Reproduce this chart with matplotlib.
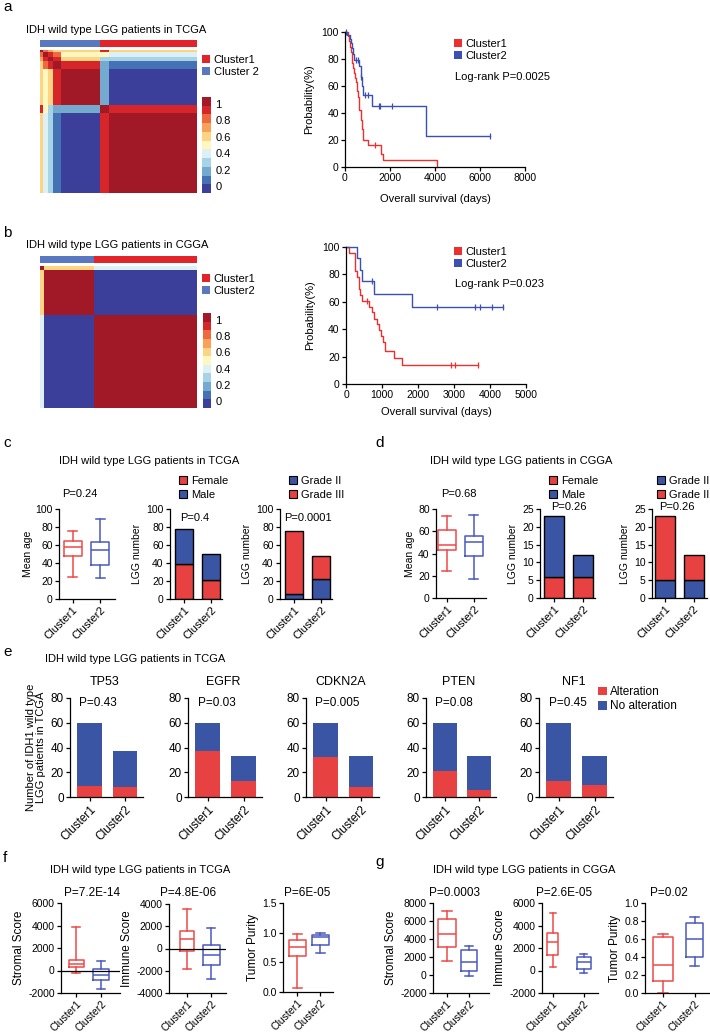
import numpy as np
import matplotlib
matplotlib.use("Agg")
import matplotlib.pyplot as plt
from matplotlib.colors import ListedColormap, BoundaryNorm
from matplotlib.patches import Patch
from matplotlib.ticker import FormatStrFormatter
from matplotlib.cm import ScalarMappable

plt.rcParams["font.family"] = ["Liberation Sans", "DejaVu Sans"]
plt.rcParams["axes.unicode_minus"] = False
plt.rcParams["axes.linewidth"] = 0.9
plt.rcParams["xtick.major.width"] = 0.9
plt.rcParams["ytick.major.width"] = 0.9
plt.rcParams["xtick.major.size"] = 3
plt.rcParams["ytick.major.size"] = 3
plt.rcParams["xtick.major.pad"] = 1.5
plt.rcParams["ytick.major.pad"] = 1.5

W, H = 710, 1033

# ---------------- data ----------------
title_tcga = "IDH wild type LGG patients in TCGA"
title_cgga = "IDH wild type LGG patients in CGGA"
clusters = ["Cluster1", "Cluster2"]

# consensus matrices, samples grouped in the order shown
heat_colors = ["#3b3f9a", "#4472b4", "#74a9d0", "#a7d3e6", "#ddf0f5", "#fef8c0",
               "#fdd483", "#f9a159", "#ee6a3e", "#d7262a", "#a11926"]
cbar_ticks = [0, 0.2, 0.4, 0.6, 0.8, 1]
cbar_ticklabels = ["0", "0.2", "0.4", "0.6", "0.8", "1"]

tcga_groups = [2, 4, 4, 7, 31, 7, 70]
tcga_group_cluster = [2, 2, 2, 2, 2, 1, 1]
tcga_consensus = [
    [1.00, 0.80, 0.75, 0.65, 0.60, 0.90, 0.60],
    [0.80, 1.00, 0.90, 0.80, 0.45, 0.50, 0.38],
    [0.75, 0.90, 1.00, 0.90, 0.62, 0.30, 0.25],
    [0.65, 0.80, 0.90, 1.00, 0.90, 0.20, 0.10],
    [0.60, 0.45, 0.62, 0.90, 1.00, 0.15, 0.00],
    [0.90, 0.50, 0.30, 0.20, 0.15, 1.00, 0.90],
    [0.60, 0.38, 0.25, 0.10, 0.00, 0.90, 1.00],
]
cgga_groups = [1, 11, 23]
cgga_group_cluster = [2, 2, 1]
cgga_consensus = [
    [1.00, 0.60, 0.35],
    [0.60, 1.00, 0.00],
    [0.35, 0.00, 1.00],
]

# Kaplan-Meier steps (days, % surviving) and censor marks
tcga_km_c1_t = [0, 130, 180, 220, 260, 290, 320, 360, 400, 440, 480, 520, 550, 580,
                610, 640, 720, 760, 790, 1030, 1590, 1680, 4090]
tcga_km_c1_s = [100, 97, 93, 89, 85, 81, 77, 73, 70, 66, 63, 60, 56, 52,
                47, 42, 35, 28, 20, 16, 10, 5, 0]
tcga_km_c1_cens_t = [1333]
tcga_km_c1_cens_s = [16]
tcga_km_c2_t = [0, 100, 200, 260, 300, 350, 420, 620, 700, 770, 810, 1185, 3587, 6444]
tcga_km_c2_s = [100, 98, 95, 92, 88, 84, 79, 75, 67, 60, 53, 45, 23, 23]
tcga_km_c2_cens_t = [30, 480, 560, 720, 870, 1000, 1510, 1550, 2090, 6444]
tcga_km_c2_cens_s = [100, 79, 79, 67, 53, 53, 45, 45, 45, 23]

cgga_km_c1_t = [0, 75, 240, 310, 360, 400, 440, 650, 720, 790, 860, 910, 960,
                1020, 1090, 1340, 1550, 3675]
cgga_km_c1_s = [100, 95.7, 82.6, 78.3, 69.6, 65.2, 60.9, 56.5, 52.2, 47.8, 43.5,
                39.1, 34.8, 30.4, 23.9, 18.9, 14.1, 14.1]
cgga_km_c1_cens_t = [580, 2920, 3020, 3675]
cgga_km_c1_cens_s = [60.9, 14.1, 14.1, 14.1]
cgga_km_c2_t = [0, 310, 400, 450, 770, 1830, 4350]
cgga_km_c2_s = [100, 91.7, 83.3, 75, 65.6, 56.3, 56.3]
cgga_km_c2_cens_t = [720, 2520, 3590, 3710, 4050, 4350]
cgga_km_c2_cens_s = [75, 56.3, 56.3, 56.3, 56.3, 56.3]

# box statistics: whisker low, Q1, median, Q3, whisker high
tcga_age = [[25, 48, 58, 64, 75.5], [23, 38, 55, 63, 88.5]]
cgga_age = [[24, 43, 48, 61, 74], [17, 38, 50, 56, 75]]
tcga_stromal = [[-230, 300, 600, 900, 3900], [-1630, -830, -440, 150, 860]]
tcga_immune = [[-1800, -240, 810, 1560, 3530], [-2700, -1500, -540, 300, 1800]]
tcga_purity = [[0.07, 0.61, 0.76, 0.88, 0.97], [0.65, 0.79, 0.92, 0.96, 1.0]]
cgga_stromal = [[1520, 3070, 4560, 6260, 7160], [-150, 480, 1440, 2740, 3240]]
cgga_immune = [[290, 1370, 2540, 3290, 5120], [-210, 90, 740, 1190, 1430]]
cgga_purity = [[0.0, 0.13, 0.31, 0.62, 0.66], [0.30, 0.40, 0.60, 0.78, 0.85]]

# stacked counts
tcga_female = [39, 21]
tcga_male = [39, 29]
tcga_grade2 = [6, 22]
tcga_grade3 = [70, 26]
cgga_female = [6, 6]
cgga_male = [17, 6]
cgga_grade2 = [5, 5]
cgga_grade3 = [18, 7]

genes = ["TP53", "EGFR", "CDKN2A", "PTEN", "NF1"]
gene_alt = [[9, 8], [37, 13], [32, 8], [21, 6], [13, 10]]
gene_no_alt = [[51, 29], [23, 20], [28, 25], [39, 27], [47, 23]]
gene_p = ["P=0.43", "P=0.03", "P=0.005", "P=0.08", "P=0.45"]

RED = "#ee2f2f"
BLUE = "#3b50b2"
BAR_RED = "#e84142"
BAR_BLUE = "#3b55a5"
BOX_RED = "#f04848"
BOX_BLUE = "#4a58c0"
CL_RED = "#e0242a"
CL_BLUE = "#5a78c0"

heat_cmap = ListedColormap(heat_colors)
heat_norm = BoundaryNorm(np.linspace(-0.08, 1.08, 12), heat_cmap.N)
annot_cmap = ListedColormap([CL_RED, CL_BLUE])

fig = plt.figure(figsize=(W / 100, H / 100), dpi=100)


def px_axes(x0, y0, x1, y1):
    return fig.add_axes([x0 / W, 1 - y1 / H, (x1 - x0) / W, (y1 - y0) / H])


def put_text(x, y, s, size=8, ha="left", **kw):
    fig.text(x / W, 1 - y / H, s, fontsize=size, ha=ha, va="center", **kw)


def square_legend(x, y, labels, colors, edge="none", size=8, spacing=0.3):
    handles = [Patch(facecolor=c, edgecolor=edge, linewidth=0.8) for c in colors]
    fig.legend(handles, labels, loc="upper left", bbox_to_anchor=(x / W, 1 - y / H),
               frameon=False, fontsize=size, handlelength=0.75, handleheight=0.75,
               handletextpad=0.3, labelspacing=spacing, borderpad=0, borderaxespad=0)


def prism(ax, size=7.5):
    for side in ("top", "right"):
        ax.spines[side].set_visible(False)
    ax.tick_params(labelsize=size, direction="out")


def cluster_xticks(ax, size=8):
    ax.set_xticks([1, 2])
    ax.set_xticklabels(clusters, rotation=45, ha="right", rotation_mode="anchor",
                       fontsize=size)


def consensus_panel(groups, group_cluster, mat, box, bar_box, cbar_box, leg_xy, leg_labels):
    idx = np.repeat(np.arange(len(groups)), groups)
    full = np.asarray(mat)[np.ix_(idx, idx)]
    ax = px_axes(*box)
    ax.imshow(full, cmap=heat_cmap, norm=heat_norm, aspect="auto", interpolation="nearest")
    ax.axis("off")
    bax = px_axes(*bar_box)
    bax.imshow(np.repeat(group_cluster, groups)[None, :], cmap=annot_cmap, vmin=1, vmax=2,
               aspect="auto", interpolation="nearest")
    bax.axis("off")
    cax = px_axes(*cbar_box)
    cb = fig.colorbar(ScalarMappable(norm=heat_norm, cmap=heat_cmap), cax=cax, ticks=cbar_ticks)
    cb.ax.set_yticklabels(cbar_ticklabels)
    cb.outline.set_visible(False)
    cb.ax.minorticks_off()
    cb.ax.tick_params(length=0, labelsize=8, pad=3)
    square_legend(leg_xy[0], leg_xy[1], leg_labels, [CL_RED, CL_BLUE], size=8, spacing=0.2)


def km_panel(box, xmax, curves, leg_xy, pval_xy, pval, xlabelpad):
    ax = px_axes(*box)
    for t, s, ct, cs, color in curves:
        ax.step(t, s, where="post", color=color, lw=1.0, clip_on=False)
        ax.plot(ct, cs, ls="none", marker="|", ms=4, mew=0.9, color=color, clip_on=False)
    ax.set_xlim(0, xmax)
    ax.set_ylim(0, 100)
    ax.set_yticks(range(0, 101, 20))
    prism(ax, 7.5)
    ax.set_ylabel("Probability(%)", fontsize=8, labelpad=5)
    ax.set_xlabel("Overall survival (days)", fontsize=8, labelpad=xlabelpad)
    square_legend(leg_xy[0], leg_xy[1], clusters, [RED, BLUE], size=8, spacing=0.2)
    put_text(pval_xy[0], pval_xy[1], pval, size=8)
    return ax


def box_panel(box, stats, ylim, yticks, xlim, widths, ylabel, fmt=None, zero_line=False,
              size=7.5, lsize=7.5, xsize=8, lw=1.1):
    ax = px_axes(*box)
    bstats = []
    for st in stats:
        bstats.append({"whislo": st[0], "q1": st[1], "med": st[2], "q3": st[3],
                       "whishi": st[4], "fliers": []})
    arts = ax.bxp(bstats, positions=[1, 2], widths=widths, showfliers=False,
                  patch_artist=False)
    for i, col in enumerate([BOX_RED, BOX_BLUE]):
        arts["boxes"][i].set(color=col, lw=lw)
        arts["medians"][i].set(color=col, lw=lw)
        for k in (2 * i, 2 * i + 1):
            arts["whiskers"][k].set(color=col, lw=lw)
            arts["caps"][k].set(color=col, lw=lw)
    if zero_line:
        ax.axhline(0, color="black", lw=0.9)
    ax.set_xlim(*xlim)
    ax.set_ylim(*ylim)
    ax.set_yticks(yticks)
    if fmt:
        ax.yaxis.set_major_formatter(FormatStrFormatter(fmt))
    prism(ax, size)
    cluster_xticks(ax, xsize)
    ax.set_ylabel(ylabel, fontsize=lsize, labelpad=2)
    return ax


def stack_panel(box, bottom, top, colors, ylim, yticks, xlim, width, ylabel, edge="black",
                lw=1.0, size=7.5):
    ax = px_axes(*box)
    ax.bar([1, 2], bottom, width, color=colors[0], edgecolor=edge, lw=lw)
    ax.bar([1, 2], top, width, bottom=bottom, color=colors[1], edgecolor=edge, lw=lw)
    ax.set_xlim(*xlim)
    ax.set_ylim(*ylim)
    ax.set_yticks(yticks)
    prism(ax, size)
    cluster_xticks(ax, 8)
    ax.set_ylabel(ylabel, fontsize=7.5, labelpad=3)
    return ax


# ---------------- panel a ----------------
put_text(3, 7, "a", size=11)
put_text(26, 30, title_tcga, size=8)
consensus_panel(tcga_groups, tcga_group_cluster, tcga_consensus,
                (40, 50, 197, 193), (40, 40, 197, 47), (202, 97, 211, 193),
                (202, 55), ["Cluster1", "Cluster 2"])
km_panel((345, 32, 525, 167), 8000,
         [(tcga_km_c1_t, tcga_km_c1_s, tcga_km_c1_cens_t, tcga_km_c1_cens_s, RED),
          (tcga_km_c2_t, tcga_km_c2_s, tcga_km_c2_cens_t, tcga_km_c2_cens_s, BLUE)],
         (454, 39), (455, 77), "Log-rank P=0.0025", 8).set_xticks(range(0, 8001, 2000))

# ---------------- panel b ----------------
put_text(3, 233, "b", size=11)
put_text(26, 245, title_cgga, size=8)
consensus_panel(cgga_groups, cgga_group_cluster, cgga_consensus,
                (40, 266, 197, 408), (40, 256, 197, 263), (203, 313, 211, 408),
                (202, 274), ["Cluster1", "Cluster2"])
km_panel((346, 247, 526, 384), 5000,
         [(cgga_km_c1_t, cgga_km_c1_s, cgga_km_c1_cens_t, cgga_km_c1_cens_s, RED),
          (cgga_km_c2_t, cgga_km_c2_s, cgga_km_c2_cens_t, cgga_km_c2_cens_s, BLUE)],
         (454, 247), (455, 284), "Log-rank P=0.023", 5).set_xticks(range(0, 5001, 1000))

# ---------------- panel c ----------------
put_text(3, 443, "c", size=11)
put_text(149, 461, title_tcga, size=8, ha="center")
box_panel((59, 509, 115, 599), tcga_age, (0, 100), range(0, 101, 20), (0.5, 2.54),
          [0.66, 0.66], "Mean age")
put_text(80, 494, "P=0.24", ha="center")
stack_panel((170, 509, 222, 599), tcga_female, tcga_male, [BAR_RED, BAR_BLUE],
            (0, 100), range(0, 101, 20), (0.48, 2.42), 0.66, "LGG number")
square_legend(179, 476, ["Female", "Male"], [BAR_RED, BAR_BLUE], edge="black", spacing=0.35)
put_text(180, 518, "P=0.4")
stack_panel((280, 509, 332, 599), tcga_grade2, tcga_grade3, [BAR_BLUE, BAR_RED],
            (0, 100), range(0, 101, 20), (0.49, 2.4), 0.66, "LGG number")
square_legend(289, 476, ["Grade II", "Grade III"], [BAR_BLUE, BAR_RED], edge="black",
              spacing=0.35)
put_text(284, 518, "P=0.0001")

# ---------------- panel d ----------------
put_text(375, 443, "d", size=11)
put_text(521, 461, title_cgga, size=8, ha="center")
box_panel((436, 509, 486, 598), cgga_age, (0, 80), range(0, 81, 20), (0.6, 2.45),
          [0.66, 0.66], "Mean age")
put_text(459, 494, "P=0.68", ha="center")
stack_panel((540, 509, 595, 598), cgga_female, cgga_male, [BAR_RED, BAR_BLUE],
            (0, 25), range(0, 26, 5), (0.5, 2.42), 0.7, "LGG number")
square_legend(549, 476, ["Female", "Male"], [BAR_RED, BAR_BLUE], edge="black", spacing=0.35)
put_text(551, 507, "P=0.26")
stack_panel((652, 509, 707, 598), cgga_grade2, cgga_grade3, [BAR_BLUE, BAR_RED],
            (0, 25), range(0, 26, 5), (0.53, 2.47), 0.7, "LGG number")
square_legend(657, 476, ["Grade II", "Grade III"], [BAR_BLUE, BAR_RED], edge="black",
              spacing=0.35)
put_text(659, 507, "P=0.26")

# ---------------- panel e ----------------
put_text(3, 652, "e", size=11)
put_text(45, 659, title_tcga, size=8)
gene_x = [(70, 143), (188, 262), (306, 379), (426, 496), (539, 613)]
for i, gene in enumerate(genes):
    ax = stack_panel((gene_x[i][0], 698, gene_x[i][1], 797), gene_alt[i], gene_no_alt[i],
                     [BAR_RED, BAR_BLUE], (0, 80), range(0, 81, 20), (0.45, 2.5), 0.69,
                     "", edge="none", lw=0, size=8.5)
    cluster_xticks(ax, 8.5)
    ax.text(0.47, 1.16, gene, transform=ax.transAxes, ha="center", va="center", fontsize=9)
    ax.text(0.13, 0.95, gene_p[i], transform=ax.transAxes, ha="left", va="center",
            fontsize=8.5)
    if i == 0:
        ax.set_ylabel("Number of IDH1 wild type\nLGG patients in TCGA", fontsize=8,
                      labelpad=3, linespacing=1.1)
square_legend(598, 686, ["Alteration", "No alteration"], [BAR_RED, BAR_BLUE], size=8.5,
              spacing=0.2)

# ---------------- panel f ----------------
put_text(3, 858, "f", size=11)
put_text(50, 870, title_tcga, size=8)
box_panel((61, 903, 120, 993), tcga_stromal, (-2000, 6000), range(-2000, 6001, 2000),
          (0.4, 2.75), [0.6, 0.65], "Stromal Score", zero_line=True, size=7.5, lsize=8.5,
          xsize=7.5)
put_text(92, 893, "P=7.2E-14", ha="center", size=8.5)
box_panel((169, 904, 226, 993), tcga_immune, (-4000, 4000), range(-4000, 4001, 2000),
          (0.25, 2.62), [0.62, 0.7], "Immune Score", zero_line=True, size=7.5, lsize=8.5,
          xsize=7.5)
put_text(188, 893, "P=4.8E-06", ha="center", size=8.5)
box_panel((283, 903, 333, 992), tcga_purity, (0, 1.5), [0, 0.5, 1.0, 1.5],
          (0.37, 2.55), [0.75, 0.75], "Tumor Purity", fmt="%.1f", size=7.5, lsize=8.5,
          xsize=7.5)
put_text(307, 893, "P=6E-05", ha="center", size=8.5)

# ---------------- panel g ----------------
put_text(375, 862, "g", size=11)
put_text(433, 870, title_cgga, size=8)
box_panel((433, 903, 489, 993), cgga_stromal, (-2000, 8000), range(-2000, 8001, 2000),
          (0.37, 2.91), [0.84, 0.7], "Stromal Score", size=7.5, lsize=8.5, xsize=7.5)
put_text(455, 893, "P=0.0003", ha="center", size=8.5)
box_panel((542, 903, 598, 993), cgga_immune, (-2000, 6000), range(-2000, 6001, 2000),
          (0.65, 2.46), [0.35, 0.45], "Immune Score", size=7.5, lsize=8.5, xsize=7.5)
put_text(564, 893, "P=2.6E-05", ha="center", size=8.5)
box_panel((645, 903, 709, 993), cgga_purity, (0, 1.0), np.arange(0, 1.01, 0.2),
          (0.45, 2.45), [0.62, 0.53], "Tumor Purity", fmt="%.1f", size=7.5, lsize=8.5,
          xsize=7.5)
put_text(669, 893, "P=0.02", ha="center", size=8.5)

fig.savefig("out.png", dpi=100)
